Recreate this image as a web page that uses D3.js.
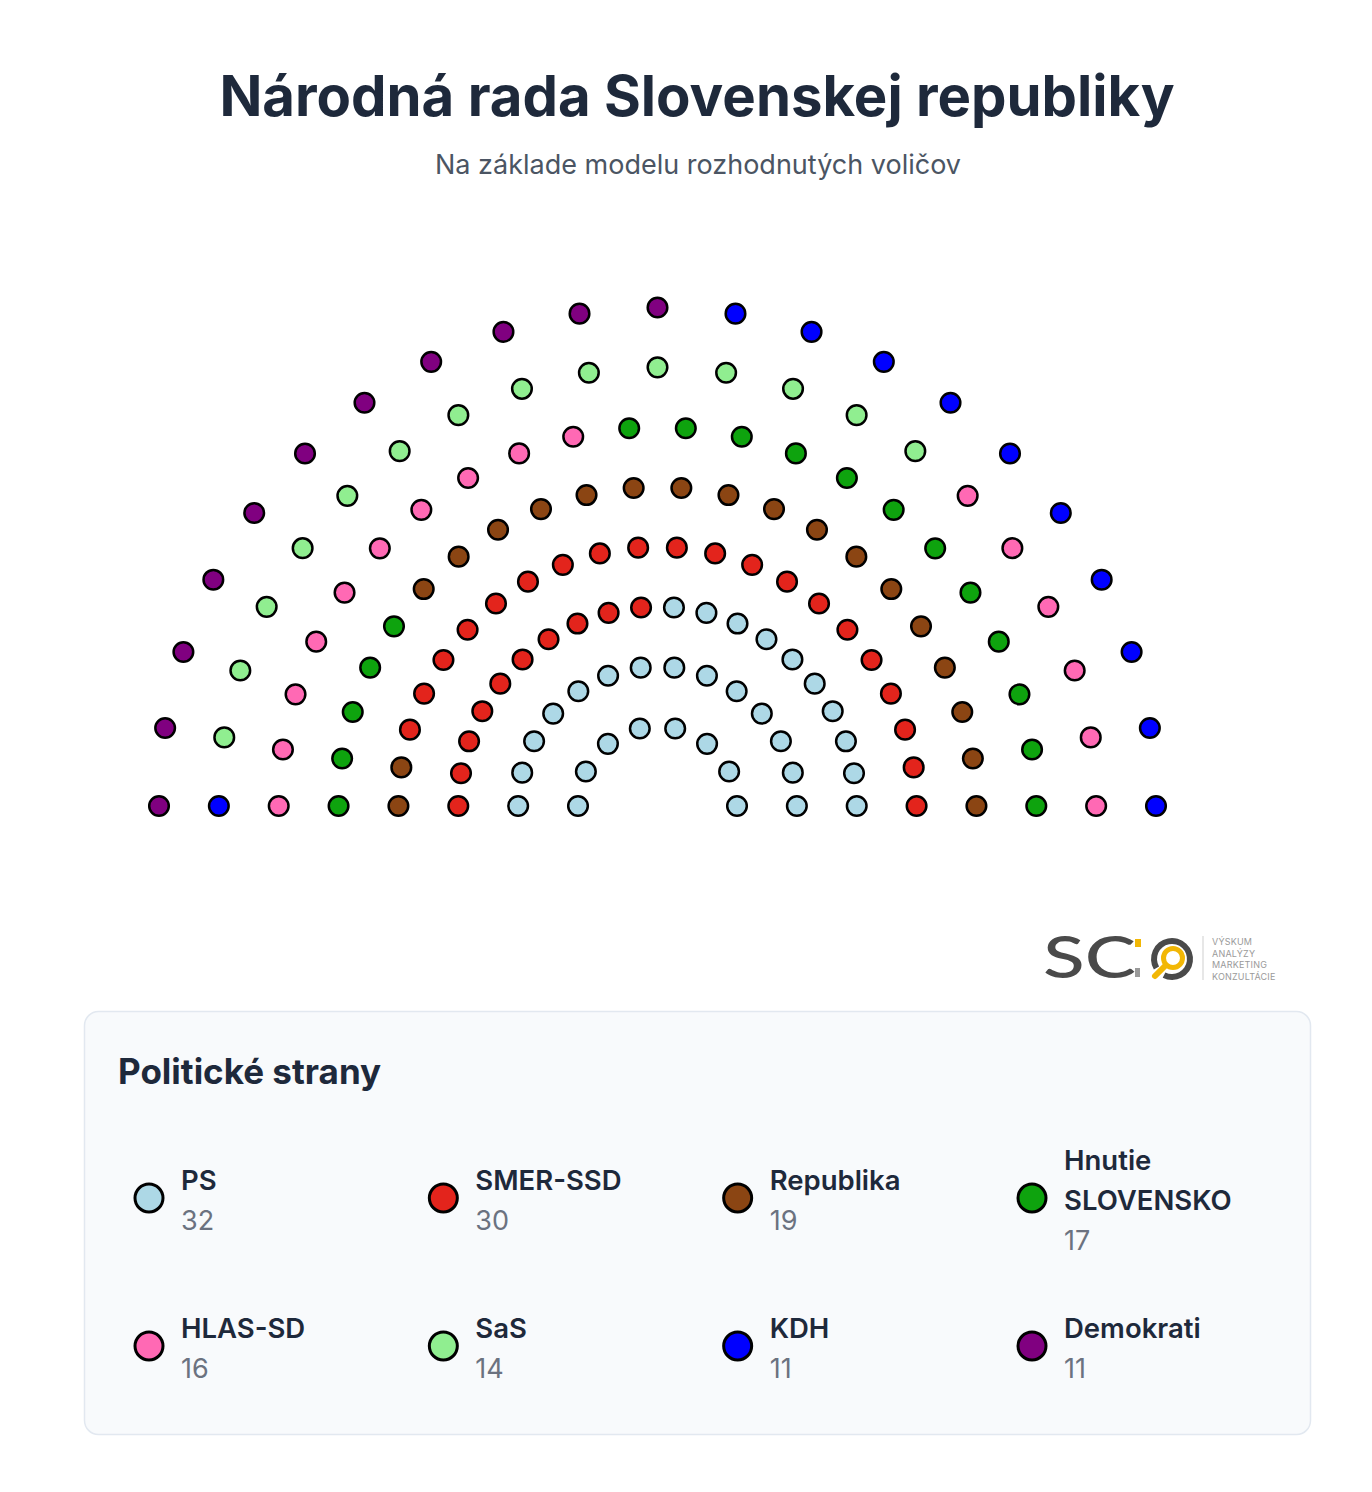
<!DOCTYPE html>
<html>
<head>
<meta charset="utf-8">
<script src="https://cdn.jsdelivr.net/npm/d3@7"></script>
<style>
  html, body { margin: 0; padding: 0; background: #ffffff; }
  svg { display: block; font-family: Inter, "Noto Sans", sans-serif; }
</style>
</head>
<body>
<svg id="chart" width="1372" height="1492"></svg>
<script>
// ---- data ----
const parties = ["PS", "SMER-SSD", "Republika", "Hnutie SLOVENSKO", "HLAS-SD", "SaS", "KDH", "Demokrati"];
const seats = [32, 30, 19, 17, 16, 14, 11, 11];
const colors = ["#add8e6", "#e3241c", "#8b4513", "#0ea30e", "#ff69b4", "#90ee90", "#0000ff", "#800080"];
const rowSeats = [8, 14, 20, 22, 22, 22, 21, 21];
const title = "Národná rada Slovenskej republiky";
const subtitle = "Na základe modelu rozhodnutých voličov";
const legendTitle = "Politické strany";
const logoWords = ["VÝSKUM", "ANALÝZY", "MARKETING", "KONZULTÁCIE"];

const svg = d3.select("#chart");

// ---- titles ----
svg.append("text").attr("x", 697).attr("y", 116).attr("text-anchor", "middle")
  .attr("font-size", 56.3).attr("font-weight", 700).attr("fill", "#1e293b").text(title);
svg.append("text").attr("x", 698).attr("y", 174).attr("text-anchor", "middle")
  .attr("font-size", 27).attr("fill", "#4b5563").text(subtitle);

// ---- parliament ----
const cx = 657.5, cy = 806;
const rScale = d3.scaleLinear().domain([0, rowSeats.length - 1]).range([79.5, 498.5]);
const seatParty = [];
parties.forEach((p, i) => { for (let k = 0; k < seats[i]; k++) seatParty.push(i); });
const seatData = [];
let idx = 0;
rowSeats.forEach((n, row) => {
  const aScale = d3.scaleLinear().domain([0, n - 1]).range([0, Math.PI]);
  for (let k = 0; k < n; k++) {
    const a = aScale(k), r = rScale(row);
    seatData.push({ x: cx + r * Math.cos(a), y: cy - r * Math.sin(a), party: seatParty[idx++] });
  }
});
svg.append("g").selectAll("circle").data(seatData).join("circle")
  .attr("cx", d => d.x).attr("cy", d => d.y).attr("r", 9.8)
  .attr("fill", d => colors[d.party]).attr("stroke", "#000").attr("stroke-width", 2.5);

// ---- logo ----
const logo = svg.append("g");
logo.append("text").attr("x", 1043).attr("y", 978).attr("font-size", 58).attr("font-weight", 500)
  .attr("fill", "#4a4a4a").attr("textLength", 93).attr("lengthAdjust", "spacingAndGlyphs")
  .attr("font-family", "Lato, Inter, sans-serif").text("SC");
logo.append("rect").attr("x", 1135).attr("y", 939).attr("width", 6).attr("height", 8).attr("fill", "#f2b705");
logo.append("rect").attr("x", 1135).attr("y", 968).attr("width", 5).attr("height", 9).attr("fill", "#9a9a9a");
logo.append("path")
  .attr("d", d3.arc()({ innerRadius: 15, outerRadius: 21, startAngle: -2.1, endAngle: 3.6 }))
  .attr("transform", "translate(1172,959)").attr("fill", "#4a4a4a");
logo.append("circle").attr("cx", 1173).attr("cy", 958).attr("r", 9.5).attr("fill", "none")
  .attr("stroke", "#f2b705").attr("stroke-width", 5);
logo.append("line").attr("x1", 1165).attr("y1", 966).attr("x2", 1155).attr("y2", 976)
  .attr("stroke", "#f2b705").attr("stroke-width", 6).attr("stroke-linecap", "round");
logo.append("line").attr("x1", 1203).attr("y1", 936).attr("x2", 1203).attr("y2", 980)
  .attr("stroke", "#cfcfcf").attr("stroke-width", 1);
logo.selectAll("text.w").data(logoWords).join("text").attr("class", "w")
  .attr("x", 1212).attr("y", (d, i) => 945 + i * 11.5).attr("font-size", 9)
  .attr("fill", "#9a9a9a").attr("letter-spacing", 0.2).text(d => d);

// ---- legend ----
svg.append("rect").attr("x", 84.5).attr("y", 1011.5).attr("width", 1226).attr("height", 423)
  .attr("rx", 14).attr("fill", "#f8fafc").attr("stroke", "#e2e8f0").attr("stroke-width", 1.5);
svg.append("text").attr("x", 118).attr("y", 1084).attr("font-size", 35).attr("font-weight", 700)
  .attr("fill", "#1e293b").text(legendTitle);

const colX = d3.scaleLinear().domain([0, 3]).range([149, 1032]);
const rowY = d3.scaleLinear().domain([0, 1]).range([1198, 1346]);
const items = svg.append("g").selectAll("g").data(parties).join("g")
  .attr("transform", (d, i) => `translate(${colX(i % 4)},${rowY(Math.floor(i / 4))})`);
items.append("circle").attr("r", 14).attr("fill", (d, i) => colors[i])
  .attr("stroke", "#000").attr("stroke-width", 3);
items.each(function (d, i) {
  const g = d3.select(this);
  const words = d.split(" ");
  const lines = [];
  let cur = "";
  const probe = g.append("text").attr("font-size", 27.5).attr("font-weight", 600);
  words.forEach(w => {
    const t = cur ? cur + " " + w : w;
    probe.text(t);
    if (probe.node().getComputedTextLength() > 235 && cur) { lines.push(cur); cur = w; } else cur = t;
  });
  lines.push(cur);
  probe.remove();
  const lh = 40;
  const total = lines.length + 1;
  const firstBase = -8 - (total - 2) * lh / 2;
  lines.forEach((l, j) => {
    g.append("text").attr("x", 32).attr("y", firstBase + j * lh).attr("font-size", 27.5)
      .attr("font-weight", 600).attr("fill", "#1e293b").text(l);
  });
  g.append("text").attr("x", 32).attr("y", firstBase + lines.length * lh - 0.5).attr("font-size", 27)
    .attr("fill", "#6b7280").text(seats[i]);
});
</script>
</body>
</html>
